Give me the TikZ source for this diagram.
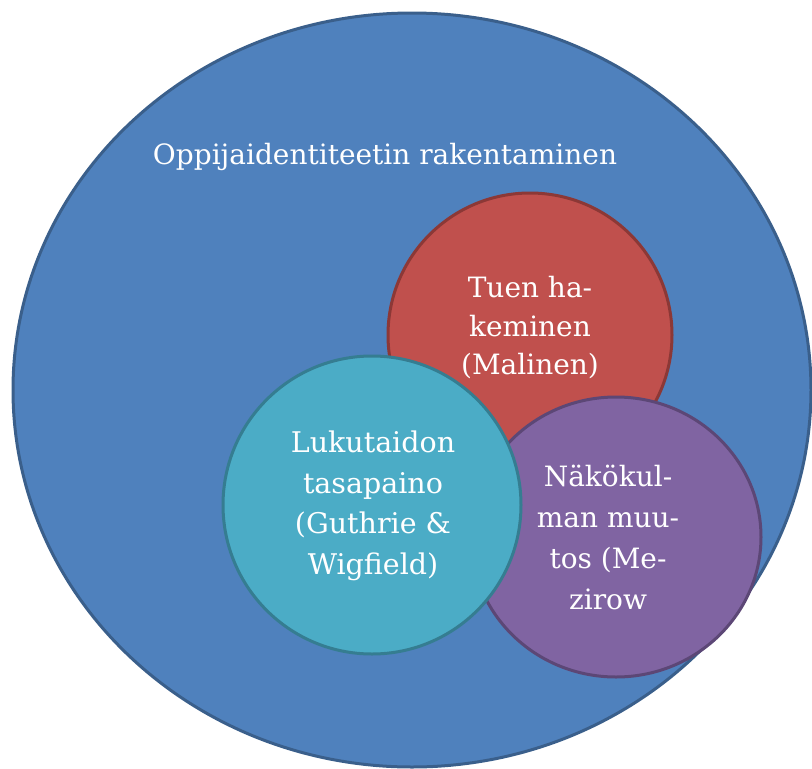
\documentclass[tikz,border=0pt]{standalone}
\usepackage{fontspec}
\setmainfont{DejaVu Serif}
\usetikzlibrary{shapes.geometric}
\definecolor{bluefill}{HTML}{4F81BD}
\definecolor{blueline}{HTML}{3A5F8B}
\definecolor{redfill}{HTML}{C0504D}
\definecolor{redline}{HTML}{8C3836}
\definecolor{purplefill}{HTML}{8064A2}
\definecolor{purpleline}{HTML}{5C4776}
\definecolor{tealfill}{HTML}{4BACC6}
\definecolor{tealline}{HTML}{357D91}
\tikzset{
  blob/.style={ellipse, inner sep=0pt},
  label/.style={text=white, align=center, inner sep=0pt},
}
\begin{document}
\begin{tikzpicture}[x=1pt,y=-1pt]
\useasboundingbox (0,0) rectangle (812,769);
\node[blob, fill=bluefill, draw=blueline, line width=3pt,
  minimum width=798pt, minimum height=754pt] (outer) at (412,390) {};
\node[label, font=\fontsize{28}{36}\selectfont] (title) at (385,157) {Oppijaidentiteetin rakentaminen};
\node[blob, fill=redfill, draw=redline, line width=3pt,
  minimum width=284pt, minimum height=284pt] (red) at (530,335) {};
\node[label, font=\fontsize{28}{38.5}\selectfont] (redtext) at (530,328) {Tuen ha-\\keminen\\(Malinen)};
\node[blob, fill=purplefill, draw=purpleline, line width=3pt,
  minimum width=290pt, minimum height=280pt] (purple) at (616,537) {};
\node[label, font=\fontsize{28}{41}\selectfont] (purpletext) at (608,537) {Näkökul-\\man muu-\\tos (Me-\\zirow};
\node[blob, fill=tealfill, draw=tealline, line width=3pt,
  minimum width=298pt, minimum height=298pt] (teal) at (372,505) {};
\node[label, font=\fontsize{28.5}{40.5}\selectfont] (tealtext) at (373,506) {Lukutaidon\\tasapaino\\(Guthrie \&\\Wigfield)};
\end{tikzpicture}
\end{document}
